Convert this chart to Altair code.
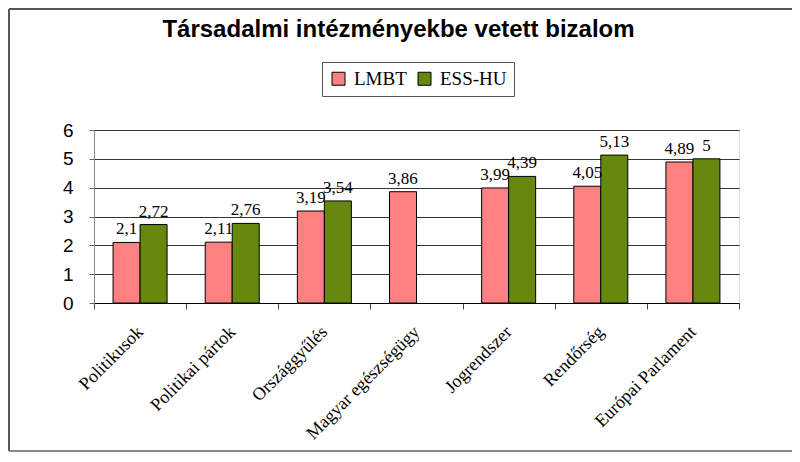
import altair as alt
import pandas as pd

categories = ["Politikusok", "Politikai pártok", "Országgyűlés", "Magyar egészségügy",
              "Jogrendszer", "Rendőrség", "Európai Parlament"]
lmbt = [2.1, 2.11, 3.19, 3.86, 3.99, 4.05, 4.89]
ess_hu = [2.72, 2.76, 3.54, None, 4.39, 5.13, 5]
series = ["LMBT", "ESS-HU"]
colors = ["#FF8080", "#66880F"]
y_ticks = [0, 1, 2, 3, 4, 5, 6]

SERIF = "Liberation Serif"
SANS = "Liberation Sans"

rows = []
for c, a, b in zip(categories, lmbt, ess_hu):
    rows.append({"kat": c, "sorozat": "LMBT", "ertek": a})
    if b is not None:
        rows.append({"kat": c, "sorozat": "ESS-HU", "ertek": b})
df = pd.DataFrame(rows)

W, H = 645, 173
PL, PT = 86, 122
TOTAL_W, TOTAL_H = 784, 444
PR = TOTAL_W - PL - W
PB = TOTAL_H - PT - H

x = alt.X("kat:N", sort=categories, title=None,
          scale=alt.Scale(paddingInner=0, paddingOuter=0),
          axis=alt.Axis(labelAngle=-45, labelAlign="right", labelBaseline="middle",
                        labelFont=SERIF, labelFontSize=18, labelColor="black",
                        labelPadding=20, tickBand="extent", tickSize=6, tickColor="#444",
                        domainColor="#000", labelLimit=300))
xo = alt.XOffset("sorozat:N", sort=series,
                 scale=alt.Scale(domain=series, paddingOuter=0.706, paddingInner=0))
y = alt.Y("ertek:Q", title=None, scale=alt.Scale(domain=[0, 6], nice=False),
          axis=alt.Axis(values=y_ticks, labelFont=SANS, labelFontSize=19,
                        labelColor="black", labelPadding=16, tickSize=5, tickColor="#666",
                        domainColor="#888", gridColor="#333", gridWidth=1, grid=True,
                        format="d"))
color = alt.Color("sorozat:N", sort=series,
                  scale=alt.Scale(domain=series, range=colors),
                  legend=alt.Legend(title=None, orient="none", legendX=228, legendY=-68,
                                    direction="horizontal", symbolType="square",
                                    symbolSize=169, symbolStrokeColor="black",
                                    symbolStrokeWidth=1, labelFont=SERIF,
                                    labelFontSize=19, labelColor="black", labelOffset=6,
                                    columnPadding=8, padding=7, strokeColor="#555",
                                    fillColor="white"))

base = alt.Chart(df)
bars = base.mark_bar(stroke="black", strokeWidth=1).encode(x=x, xOffset=xo, y=y, color=color)
labels = base.transform_calculate(
    lbl="replace(toString(datum.ertek), '.', ',')"
).mark_text(dy=-8, baseline="alphabetic", font=SERIF, fontSize=17,
            color="black").encode(x=x, xOffset=xo, y=y, text="lbl:N")

frame_df = pd.DataFrame({"k": [0]})
fr = alt.Chart(frame_df)
left = fr.mark_rule(color="#555", strokeWidth=2).encode(
    x=alt.value(-PL + 1), y=alt.value(-PT + 1), y2=alt.value(H + PB - 1))
top = fr.mark_rule(color="#555", strokeWidth=2).encode(
    y=alt.value(-PT + 1), x=alt.value(-PL + 1), x2=alt.value(W + PR))
bottom = fr.mark_rule(color="#888", strokeWidth=2).encode(
    y=alt.value(H + PB - 1), x=alt.value(-PL + 1), x2=alt.value(W + PR))

chart = alt.layer(bars, labels, left, top, bottom).properties(
    width=W, height=H,
    title=alt.TitleParams("Társadalmi intézményekbe vetett bizalom", font=SANS,
                          fontSize=24, fontWeight="bold", color="black", anchor="middle",
                          dx=-18, dy=53, offset=0, baseline="alphabetic"),
    autosize=alt.AutoSizeParams(type="none"),
    padding={"left": PL, "top": PT, "right": PR, "bottom": PB},
).configure_view(fill="#FFFF99", stroke="#999", strokeWidth=1
).configure(background="white")

chart.save("out.html", embed_options={"renderer": "svg", "actions": False})
